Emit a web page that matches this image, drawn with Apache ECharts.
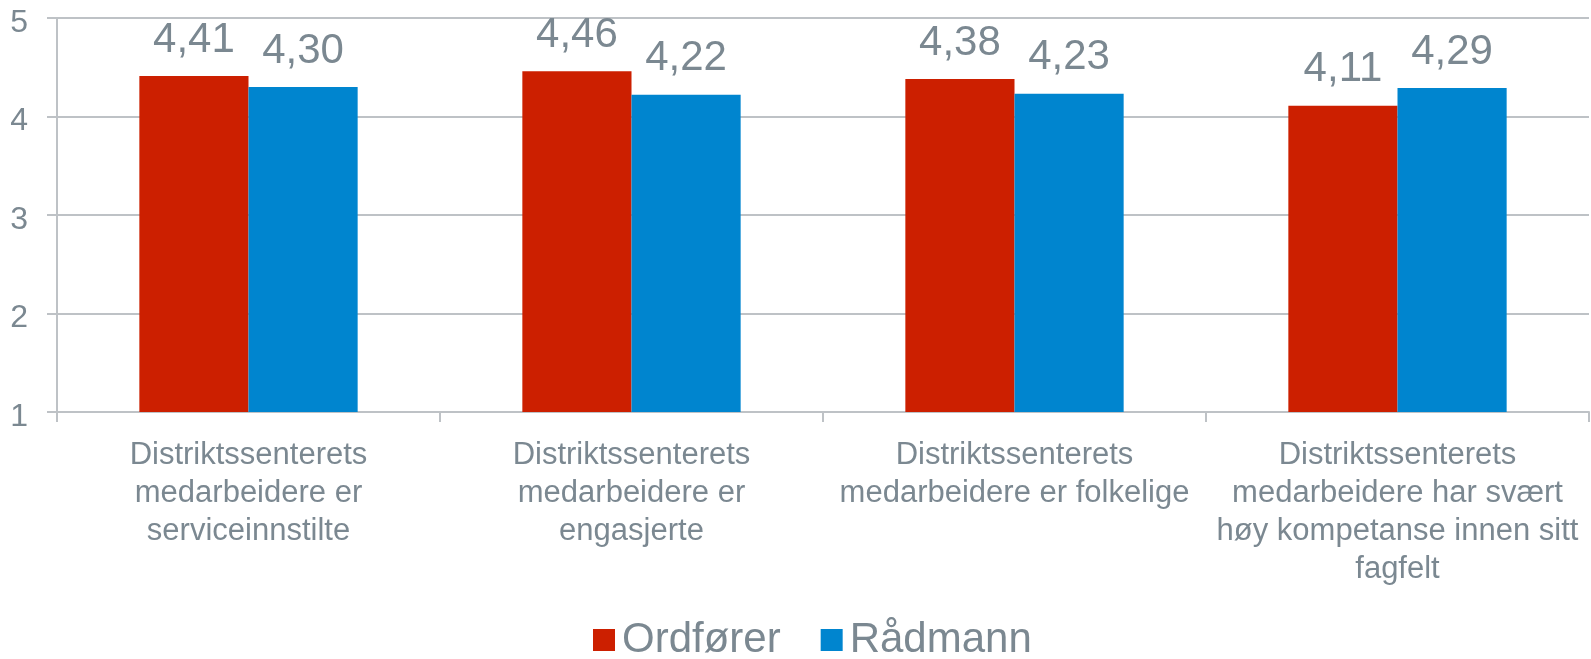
<!DOCTYPE html>
<html>
<head>
<meta charset="utf-8">
<script src="https://cdn.jsdelivr.net/npm/echarts@6/dist/echarts.min.js"></script>
<style>
  html, body { margin: 0; padding: 0; background: #ffffff; }
  #chart { width: 1591px; height: 659px; }
</style>
</head>
<body>
<div id="chart"></div>
<script>
// Statements about the district centre's staff
const categories = [
  'Distriktssenterets\nmedarbeidere er\nserviceinnstilte',
  'Distriktssenterets\nmedarbeidere er\nengasjerte',
  'Distriktssenterets\nmedarbeidere er folkelige',
  'Distriktssenterets\nmedarbeidere har svært\nhøy kompetanse innen sitt\nfagfelt'
];
const seriesNames = ['Ordfører', 'Rådmann'];
const ordforer = [4.41, 4.46, 4.38, 4.11];
const radmann = [4.30, 4.22, 4.23, 4.29];
const yTicks = [1, 2, 3, 4, 5];

const textGray = '#7B8891';
const gridGray = '#BEC2C6';
const font = 'Liberation Sans, Arial, sans-serif';

const valueLabel = {
  show: true,
  position: 'top',
  distance: 15,
  color: textGray,
  fontFamily: font,
  fontSize: 42,
  formatter: p => p.value.toFixed(2).replace('.', ',')
};

const chart = echarts.init(document.getElementById('chart'), null, { renderer: 'canvas' });
chart.setOption({
  backgroundColor: '#ffffff',
  animation: false,
  grid: { left: 57, right: 2, top: 18, bottom: 247, containLabel: false },
  legend: {
    bottom: -7,
    left: 588,
    itemWidth: 22,
    itemHeight: 22,
    itemGap: 40,
    icon: 'rect',
    textStyle: { color: textGray, fontFamily: font, fontSize: 42, padding: [0, 0, 0, 2] },
    data: seriesNames
  },
  xAxis: {
    type: 'category',
    data: categories,
    axisLine: { show: true, lineStyle: { color: gridGray, width: 2 } },
    axisTick: { show: true, length: 10, lineStyle: { color: gridGray, width: 2 } },
    axisLabel: {
      color: textGray,
      fontFamily: font,
      fontSize: 31,
      lineHeight: 38,
      margin: 24,
      interval: 0
    }
  },
  yAxis: {
    type: 'value',
    min: yTicks[0],
    max: yTicks[yTicks.length - 1],
    interval: 1,
    axisLine: { show: true, lineStyle: { color: gridGray, width: 2 } },
    axisTick: { show: true, length: 10, lineStyle: { color: gridGray, width: 2 } },
    splitLine: { show: true, lineStyle: { color: gridGray, width: 2 } },
    axisLabel: {
      margin: 29,
      formatter: '{t|{value}}',
      rich: {
        t: {
          color: textGray,
          fontFamily: font,
          fontSize: 32,
          padding: [10, 0, 0, 0]
        }
      }
    }
  },
  series: [
    {
      name: seriesNames[0],
      type: 'bar',
      data: ordforer,
      barGap: '0%',
      barCategoryGap: '43%',
      itemStyle: { color: '#CC1F00' },
      label: valueLabel
    },
    {
      name: seriesNames[1],
      type: 'bar',
      data: radmann,
      itemStyle: { color: '#0085CF' },
      label: valueLabel
    }
  ]
});
</script>
</body>
</html>
